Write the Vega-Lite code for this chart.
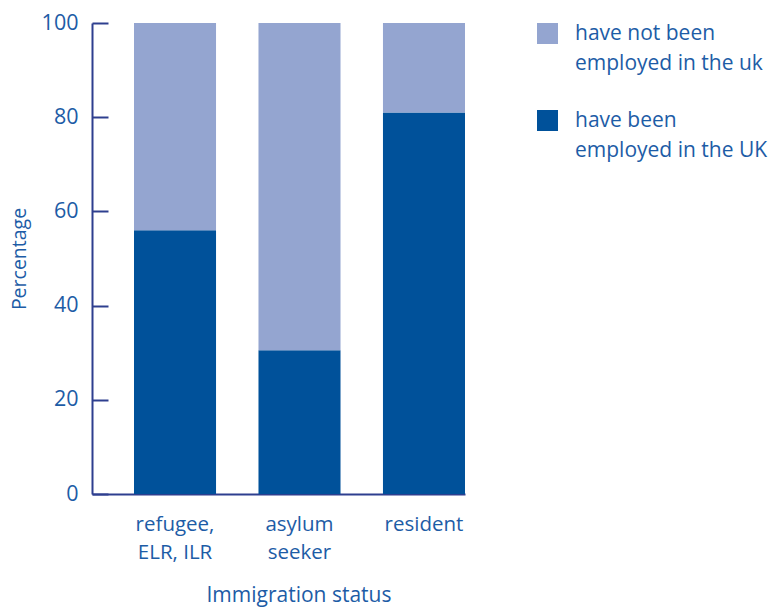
{
  "$schema": "https://vega.github.io/schema/vega-lite/v6.json",
  "width": 373,
  "height": 471,
  "autosize": {"type": "none"},
  "padding": {"left": 92, "top": 23, "right": 306, "bottom": 113},
  "background": "white",
  "data": {
    "values": [
      {"status": "refugee,|ELR, ILR", "group": "have been|employed in the UK", "ord": 1, "pct": 56},
      {"status": "refugee,|ELR, ILR", "group": "have not been|employed in the uk", "ord": 2, "pct": 44},
      {"status": "asylum|seeker", "group": "have been|employed in the UK", "ord": 1, "pct": 30.5},
      {"status": "asylum|seeker", "group": "have not been|employed in the uk", "ord": 2, "pct": 69.5},
      {"status": "resident", "group": "have been|employed in the UK", "ord": 1, "pct": 81},
      {"status": "resident", "group": "have not been|employed in the uk", "ord": 2, "pct": 19}
    ]
  },
  "encoding": {
    "x": {
      "field": "status",
      "type": "nominal",
      "sort": null,
      "scale": {"paddingInner": 0.341, "paddingOuter": 0.1687, "align": 1},
      "axis": {
        "title": "Immigration status",
        "labelExpr": "split(datum.label, '|')",
        "labelAngle": 0,
        "labelLineHeight": 28,
        "ticks": false,
        "labelPadding": 20,
        "labelFontSize": 20.5,
        "titleFontSize": 21,
        "titlePadding": 22,
        "titleX": 206.5,
        "titleAlign": "center"
      }
    },
    "color": {
      "field": "group",
      "type": "nominal",
      "scale": {
        "domain": ["have not been|employed in the uk", "have been|employed in the UK"],
        "range": ["#94a5d0", "#00519a"]
      },
      "legend": {
        "title": null,
        "orient": "none",
        "legendX": 445,
        "legendY": 0,
        "symbolType": "square",
        "symbolSize": 441,
        "symbolStrokeWidth": 0,
        "symbolOpacity": 1,
        "labelExpr": "split(datum.label, '|')",
        "labelFontSize": 21,
        "labelColor": "#1d5ca6",
        "labelOffset": 17,
        "labelBaseline": "top",
        "rowPadding": 35,
        "labelLimit": 300,
        "encode": {"labels": {"update": {"lineHeight": {"value": 30}, "dy": {"value": -11}}}}
      }
    },
    "order": {"field": "ord", "type": "quantitative"}
  },
  "layer": [
    {
      "mark": {"type": "bar"},
      "encoding": {
        "y": {
          "field": "pct",
          "type": "quantitative",
          "stack": "zero",
          "scale": {"domain": [0, 100]},
          "axis": {
            "orient": "left",
            "title": "Percentage",
            "values": [0, 20, 40, 60, 80, 100],
            "ticks": false,
            "labelPadding": 14,
            "labelFontSize": 21.5,
            "titleFontSize": 19.5,
            "grid": false,
            "titlePadding": 12
          }
        }
      }
    },
    {
      "mark": {"type": "bar", "opacity": 0},
      "encoding": {
        "y": {
          "field": "pct",
          "type": "quantitative",
          "stack": "zero",
          "axis": {
            "orient": "left",
            "offset": -16,
            "title": null,
            "values": [0, 20, 40, 60, 80, 100],
            "ticks": true,
            "tickSize": 16,
            "labels": false,
            "domain": false,
            "grid": false
          }
        }
      }
    }
  ],
  "resolve": {"axis": {"y": "independent"}},
  "config": {
    "font": "Open Sans",
    "view": {"stroke": null},
    "axis": {
      "labelFont": "Open Sans",
      "titleFont": "Open Sans",
      "titleFontWeight": "normal",
      "labelColor": "#1d5ca6",
      "titleColor": "#1d5ca6",
      "domainColor": "#2e3f8f",
      "tickColor": "#2e3f8f",
      "domainWidth": 2,
      "tickWidth": 2
    },
    "legend": {"labelFont": "Open Sans"}
  }
}
